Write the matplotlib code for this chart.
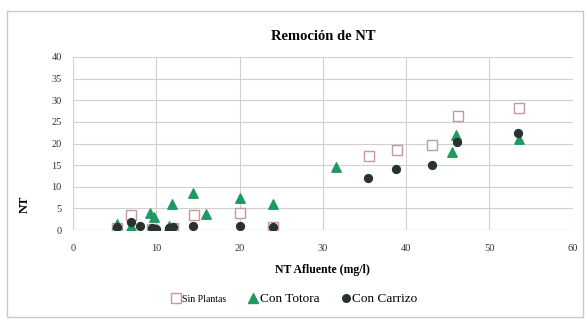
import numpy as np
import matplotlib.pyplot as plt
from matplotlib.lines import Line2D
from matplotlib.patches import Rectangle

plt.rcParams['font.family'] = ['Liberation Serif', 'DejaVu Serif']

# Sin Plantas
sin_x = [5.3, 7.0, 9.5, 12.0, 14.5, 20.0, 24.0, 35.5, 38.9, 43.1, 46.2, 53.5]
sin_y = [0.5, 3.5, 0.3, 0.5, 3.5, 4.0, 0.6, 17.2, 18.6, 19.6, 26.3, 28.2]

# Con Totora
tot_x = [5.3, 7.0, 9.3, 9.7, 11.5, 11.9, 14.4, 16.0, 20.0, 24.0, 31.6, 45.5, 46.0, 53.5]
tot_y = [1.5, 1.0, 4.0, 3.0, 1.0, 6.0, 8.5, 3.8, 7.3, 6.0, 14.6, 18.0, 22.0, 21.0]

# Con Carrizo
car_x = [5.3, 7.0, 8.0, 9.5, 10.0, 11.5, 12.0, 14.4, 20.0, 24.0, 35.4, 38.8, 43.1, 46.1, 53.4]
car_y = [0.7, 1.8, 1.0, 0.5, 0.3, 0.5, 0.8, 1.0, 1.0, 0.8, 12.0, 14.1, 15.0, 20.3, 22.4]

x_ticks = [0, 10, 20, 30, 40, 50, 60]
y_ticks = [0, 5, 10, 15, 20, 25, 30, 35, 40]

sq_col = '#c49a9a'
tri_col = '#1f9960'
dot_col = '#26332e'

fig = plt.figure(figsize=(5.88, 3.2), dpi=100)
fig.patches.append(Rectangle((0.012, 0.01), 0.98, 0.955, transform=fig.transFigure,
                             fill=False, edgecolor='#c8c8c8', lw=1.0))
ax = fig.add_axes([0.124, 0.281, 0.850, 0.541])

ax.scatter(sin_x, sin_y, marker='s', s=44, facecolors='white', edgecolors=sq_col, linewidths=1.0, zorder=3)
ax.scatter(tot_x, tot_y, marker='^', s=46, color=tri_col, zorder=4)
ax.scatter(car_x, car_y, marker='o', s=32, color=dot_col, zorder=5)

ax.set_xlim(0, 60)
ax.set_ylim(0, 40)
ax.set_xticks(x_ticks)
ax.set_yticks(y_ticks)
ax.tick_params(length=0, labelsize=7.5, colors='#333333')
ax.tick_params(axis='x', pad=10)
ax.tick_params(axis='y', pad=8)
ax.grid(True, color='#d0d0d0', lw=0.8)
ax.set_axisbelow(True)
for s in ax.spines.values():
    s.set_visible(False)
ax.axhline(0, color='#c0c0c0', lw=0.8, zorder=1)

ax.set_title('Remoción de NT', fontsize=10.5, fontweight='bold', pad=12)
ax.set_xlabel('NT Afluente (mg/l)', fontsize=8.5, fontweight='bold', labelpad=8)
ax.set_ylabel('NT', fontsize=9, fontweight='bold')
ax.yaxis.set_label_coords(-0.085, 0.15)

handles = [
    Line2D([], [], marker='s', ls='none', ms=7, mfc='white', mec=sq_col, mew=1.0),
    Line2D([], [], marker='^', ls='none', ms=7, color=tri_col),
    Line2D([], [], marker='o', ls='none', ms=5.5, color=dot_col),
]
leg = fig.legend(handles, ['Sin Plantas', 'Con Totora', 'Con Carrizo'], loc='center',
                 bbox_to_anchor=(0.5, 0.065), ncol=3, frameon=False, handlelength=0.8,
                 handletextpad=0.1, columnspacing=1.6, fontsize=9.5)
leg.get_texts()[0].set_fontsize(7)

fig.savefig('out.png', dpi=100)
